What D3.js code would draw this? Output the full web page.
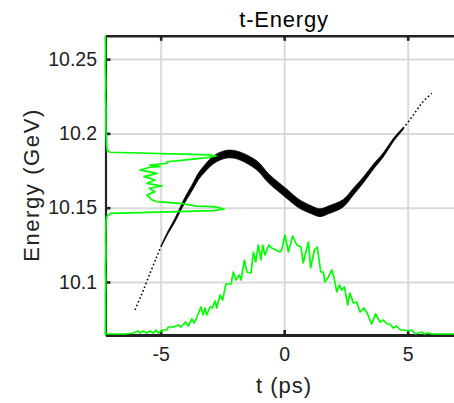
<!DOCTYPE html>
<html><head><meta charset="utf-8">
<script src="https://cdn.jsdelivr.net/npm/d3@7"></script>
<style>
body{margin:0;background:#fff}
text{font-family:"Liberation Sans",Arial,Helvetica,sans-serif}
</style>
</head><body>
<svg id="c" width="454" height="403"></svg>
<script>
// ---------- data ----------
const chartTitle = "t-Energy";
const xLabel = "t (ps)";
const yLabel = "Energy (GeV)";
const tDomain = [-7.235, 7.235];
const eDomain = [10.0643, 10.2657];
const tTicks = [-5, 0, 5];
const tTickLabels = ["-5", "0", "5"];
const eTicks = [10.1, 10.15, 10.2, 10.25];
const eTickLabels = ["10.1", "10.15", "10.2", "10.25"];

// particle cloud (centre line of the t-E scatter, and its energy spread)
const scatT = [-6.04,-5.84,-5.70,-5.43,-5.16,-4.96,-4.69,-4.42,-4.22,-4.02,-3.74,-3.48,-3.21,-2.87,-2.40,-1.99,-1.45,-1.05,-0.64,-0.24,0.17,0.57,1.11,1.45,1.79,2.39,2.80,3.20,3.61,4.01,4.42,4.82,5.23,5.57,5.97];
const scatE = [10.0812,10.0890,10.0946,10.1059,10.1170,10.1249,10.1338,10.1417,10.1485,10.1552,10.1631,10.1709,10.1765,10.1821,10.1858,10.1858,10.1821,10.1776,10.1698,10.1641,10.1585,10.1530,10.1485,10.1466,10.1485,10.1530,10.1608,10.1686,10.1776,10.1855,10.1956,10.2034,10.2124,10.2203,10.2270];
const scatSpread = [0,0,0,0,0,0.0012,0.0018,0.0024,0.0029,0.0034,0.0039,0.0044,0.0048,0.0052,0.0052,0.0052,0.0057,0.0062,0.0062,0.0062,0.0062,0.0058,0.0053,0.0052,0.0052,0.005,0.0045,0.0039,0.0033,0.0027,0.0021,0.0015,0,0,0];

// current profile: histogram over t
const histT = [-7.235,-6.44,-6.11,-5.91,-5.84,-5.70,-5.57,-5.43,-5.30,-5.20,-5.09,-4.99,-4.89,-4.76,-4.69,-4.49,-4.29,-4.18,-3.99,-3.88,-3.74,-3.64,-3.50,-3.37,-3.28,-3.21,-3.14,-3.00,-2.91,-2.80,-2.73,-2.60,-2.49,-2.36,-2.15,-2.06,-1.95,-1.82,-1.75,-1.61,-1.51,-1.34,-1.25,-1.15,-1.05,-0.94,-0.87,-0.78,-0.62,-0.51,-0.17,-0.09,0.03,0.17,0.34,0.51,0.68,0.77,0.98,1.07,1.22,1.34,1.48,1.58,1.65,1.79,1.93,2.02,2.13,2.23,2.33,2.44,2.57,2.66,2.80,2.93,3.07,3.23,3.36,3.54,3.70,3.88,4.01,4.17,4.28,4.42,4.55,4.71,4.86,5.02,5.16,5.32,5.43,5.57,5.68,5.84,5.97,6.51,7.235];
const histTCount = [0,0,1,3,1,3,1,3,1,4,1,3,4,4,7,7,9,7,12,8,15,11,19,27,19,26,19,27,26,33,26,39,34,50,50,62,54,59,54,74,62,61,82,72,89,74,89,79,89,86,82,85,99,82,98,89,87,71,92,66,84,87,62,62,52,57,64,56,42,49,44,47,29,41,31,32,22,26,21,10,20,12,14,10,10,6,8,4,4,3,4,0,1,2,0,1,0,0,0];

// energy spectrum: histogram over E
const histE = [10.2657,10.255,10.245,10.235,10.225,10.215,10.205,10.198,10.1935,10.1888,10.1873,10.1855,10.1848,10.1839,10.1822,10.1809,10.1799,10.1787,10.1776,10.1772,10.1754,10.1731,10.1709,10.1686,10.1664,10.1646,10.1631,10.1608,10.1585,10.1552,10.1540,10.1536,10.1525,10.1511,10.1507,10.1491,10.1480,10.1462,10.1439,10.14,10.13,10.12,10.11,10.10,10.09,10.08,10.0643];
const histECount = [0.4,0.6,0.3,0.8,0.5,1.0,0.8,1.3,1.5,2,5,105,111,104,81,62,62,45,55,45,35,52,39,50,42,57,44,50,42,47,52,62,79,92,109,119,109,5.5,1.5,1,0.6,1,0.4,0.8,0.5,0.6,0.4];

// ---------- layout ----------
const W = 454, H = 403;
const L = 105.5, R = 462.9, T = 35.8, B = 335;
const svg = d3.select("#c");
svg.append("rect").attr("width", W).attr("height", H).attr("fill", "#fff");

const x = d3.scaleLinear().domain(tDomain).range([L, R]);
const y = d3.scaleLinear().domain(eDomain).range([B, T]);
const hY = d3.scaleLinear().domain([0, 100]).range([334, 234]);   // t histogram height
const hX = d3.scaleLinear().domain([0, 100]).range([105, 205]);   // E histogram length

svg.append("defs").append("clipPath").attr("id", "clip")
  .append("rect").attr("x", L - 2).attr("y", T).attr("width", R - L + 2).attr("height", B - T);

// grid
const gx = svg.append("g").attr("transform", `translate(0,${B})`)
  .call(d3.axisBottom(x).tickValues(tTicks).tickSize(-(B - T)).tickFormat(""));
const gy = svg.append("g").attr("transform", `translate(${L},0)`)
  .call(d3.axisLeft(y).tickValues(eTicks).tickSize(-(R - L)).tickFormat(""));
[gx, gy].forEach(g => {
  g.select(".domain").remove();
  g.selectAll("line").attr("stroke", "#dadada").attr("stroke-width", 2);
});

const plot = svg.append("g").attr("clip-path", "url(#clip)");

// scatter cloud
const pts = scatT.map((t, i) => ({t, e: scatE[i], s: scatSpread[i]}));
const dense = pts.filter(p => p.s > 0);
const firstD = pts.indexOf(dense[0]), lastD = pts.indexOf(dense[dense.length - 1]);
const lineGen = d3.line().x(p => x(p.t)).y(p => y(p.e)).curve(d3.curveCatmullRom);
plot.append("path").datum(pts.slice(0, firstD + 1)).attr("d", lineGen)
  .attr("fill", "none").attr("stroke", "#000").attr("stroke-width", 1.5).attr("stroke-dasharray", "1.6,2.4");
plot.append("path").datum(pts.slice(lastD)).attr("d", lineGen)
  .attr("fill", "none").attr("stroke", "#000").attr("stroke-width", 1.5).attr("stroke-dasharray", "1.6,2.4");
plot.append("path").datum(dense)
  .attr("d", d3.area().x(p => x(p.t)).y0(p => y(p.e - p.s / 2)).y1(p => y(p.e + p.s / 2)).curve(d3.curveCatmullRom))
  .attr("fill", "#000").attr("stroke", "#000").attr("stroke-width", 0.8);

// axes
const axCol = "#222";
function styleAxis(g, w) {
  g.select(".domain").attr("stroke", axCol).attr("stroke-width", w);
  g.selectAll(".tick line").attr("stroke", axCol).attr("stroke-width", 2.6);
  g.selectAll(".tick text").attr("fill", axCol).attr("font-size", 19.5)
    .attr("font-family", "'Liberation Sans',Arial,sans-serif");
}
const axB = svg.append("g").attr("transform", `translate(0,${B})`)
  .call(d3.axisBottom(x).tickValues(tTicks).tickFormat((d, i) => tTickLabels[i])
    .tickSizeInner(-5).tickSizeOuter(0).tickPadding(12));
styleAxis(axB, 3);
const axT = svg.append("g").attr("transform", `translate(0,${T})`)
  .call(d3.axisTop(x).tickValues(tTicks).tickFormat("").tickSizeInner(-5).tickSizeOuter(0));
styleAxis(axT, 2.6);
const axL = svg.append("g").attr("transform", `translate(${L},0)`)
  .call(d3.axisLeft(y).tickValues(eTicks).tickFormat((d, i) => eTickLabels[i])
    .tickSizeInner(-5).tickSizeOuter(0).tickPadding(8.5));
styleAxis(axL, 2.2);

// histograms (on top)
const green = "#00ff00";
svg.append("path")
  .datum(histT.map((t, i) => [t, histTCount[i]]))
  .attr("d", d3.line().x(d => x(d[0])).y(d => hY(d[1])))
  .attr("fill", "none").attr("stroke", green).attr("stroke-width", 1.7).attr("stroke-linejoin", "round");
svg.append("path")
  .datum(histE.map((e, i) => [e, histECount[i]]))
  .attr("d", d3.line().x(d => hX(d[1])).y(d => y(d[0])))
  .attr("fill", "none").attr("stroke", green).attr("stroke-width", 1.7).attr("stroke-linejoin", "round");

// texts
svg.append("text").attr("x", 284).attr("y", 27).attr("text-anchor", "middle")
  .attr("font-size", 22).attr("letter-spacing", 0.8).attr("fill", "#000").text(chartTitle);
svg.append("text").attr("x", 284).attr("y", 393).attr("text-anchor", "middle")
  .attr("font-size", 22).attr("letter-spacing", 1).attr("fill", axCol).text(xLabel);
svg.append("text").attr("transform", `translate(38.5,185) rotate(-90)`).attr("text-anchor", "middle")
  .attr("font-size", 22).attr("letter-spacing", 1.6).attr("fill", axCol).text(yLabel);
</script>
</body></html>
